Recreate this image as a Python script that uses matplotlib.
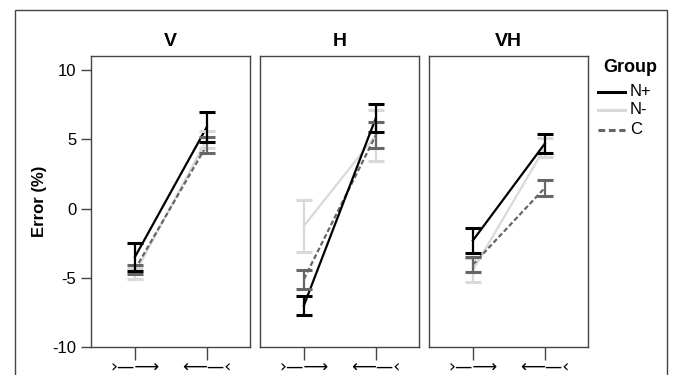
import numpy as np
import matplotlib.pyplot as plt
from matplotlib.patches import Rectangle

plt.rcParams['font.family'] = ['Liberation Sans', 'DejaVu Sans']
plt.rcParams['axes.unicode_minus'] = False

# conditions (facets) et groupes
panels = ["V", "H", "VH"]
groups = ["N+", "N-", "C"]
xlabels = ["\u203a\u2014\u27f6", "\u27f5\u2014\u2039"]

# moyennes par panneau : [x1, x2]
mean_np = {"V": [-3.5, 5.9], "H": [-7.0, 6.55], "VH": [-2.3, 4.7]}
err_np = {"V": [1.0, 1.1], "H": [0.7, 1.0], "VH": [0.9, 0.7]}
mean_nm = {"V": [-4.7, 5.0], "H": [-1.25, 5.3], "VH": [-4.45, 4.4]}
err_nm = {"V": [0.4, 0.6], "H": [1.9, 1.85], "VH": [0.85, 0.7]}
mean_c = {"V": [-4.4, 4.6], "H": [-5.1, 5.3], "VH": [-4.05, 1.5]}
err_c = {"V": [0.3, 0.6], "H": [0.7, 0.95], "VH": [0.55, 0.6]}

means = {"N+": mean_np, "N-": mean_nm, "C": mean_c}
errs = {"N+": err_np, "N-": err_nm, "C": err_c}
styles = {"N+": ("black", "-"), "N-": ("#d9d9d9", "-"), "C": ("#666666", (0, (2.2, 1.2)))}
order = ["N-", "C", "N+"]

fig = plt.figure(figsize=(6.73, 3.75), dpi=100)

# cadre extérieur de la figure
fig.patches.append(Rectangle((15/673, -0.1), 652/673, 1.1 - 10/375, transform=fig.transFigure,
                             fill=False, edgecolor="#444444", linewidth=1.0))

lefts = [91, 260, 429]
x = np.array([1, 2])
for i, p in enumerate(panels):
    ax = fig.add_axes([lefts[i]/673, 1 - 347/375, 159/673, (347 - 56)/375])
    for g in order:
        col, ls = styles[g]
        ax.plot(x, means[g][p], color=col, linestyle=ls, linewidth=1.6, zorder=2)
        ax.errorbar(x, means[g][p], yerr=errs[g][p], fmt="none", ecolor=col,
                    elinewidth=1.6, capsize=6, capthick=2.2, zorder=3)
    ax.set_xlim(0.39, 2.6)
    ax.set_ylim(-10, 11.03)
    ax.set_yticks([-10, -5, 0, 5, 10])
    ax.set_xticks(x)
    ax.set_xticklabels(xlabels, fontsize=12.5, family=['DejaVu Sans'])
    ax.tick_params(axis="x", length=9, width=1, color="#444444", pad=-1)
    ax.tick_params(axis="y", length=7, width=1, color="#444444", labelsize=12)
    if i > 0:
        ax.tick_params(axis="y", left=False, labelleft=False)
    else:
        ax.set_ylabel("Error (%)", fontsize=12, fontweight="bold", labelpad=4)
    for s in ax.spines.values():
        s.set_color("#444444")
        s.set_linewidth(1.0)
    ax.set_title(p, fontsize=14, fontweight="bold", pad=7)

# légende
fig.text(603/673, 1 - 68/375, "Group", fontsize=13, fontweight="bold", va="center")
ys = [92, 110, 130]
for g, yy in zip(groups, ys):
    col, ls = styles[g]
    fig.add_artist(plt.Line2D([598/673, 625/673], [1 - yy/375, 1 - yy/375], color=col,
                              linestyle=ls, linewidth=2.2, transform=fig.transFigure))
    fig.text(630/673, 1 - yy/375, g, fontsize=12, va="center")

fig.savefig("out.png", dpi=100)
